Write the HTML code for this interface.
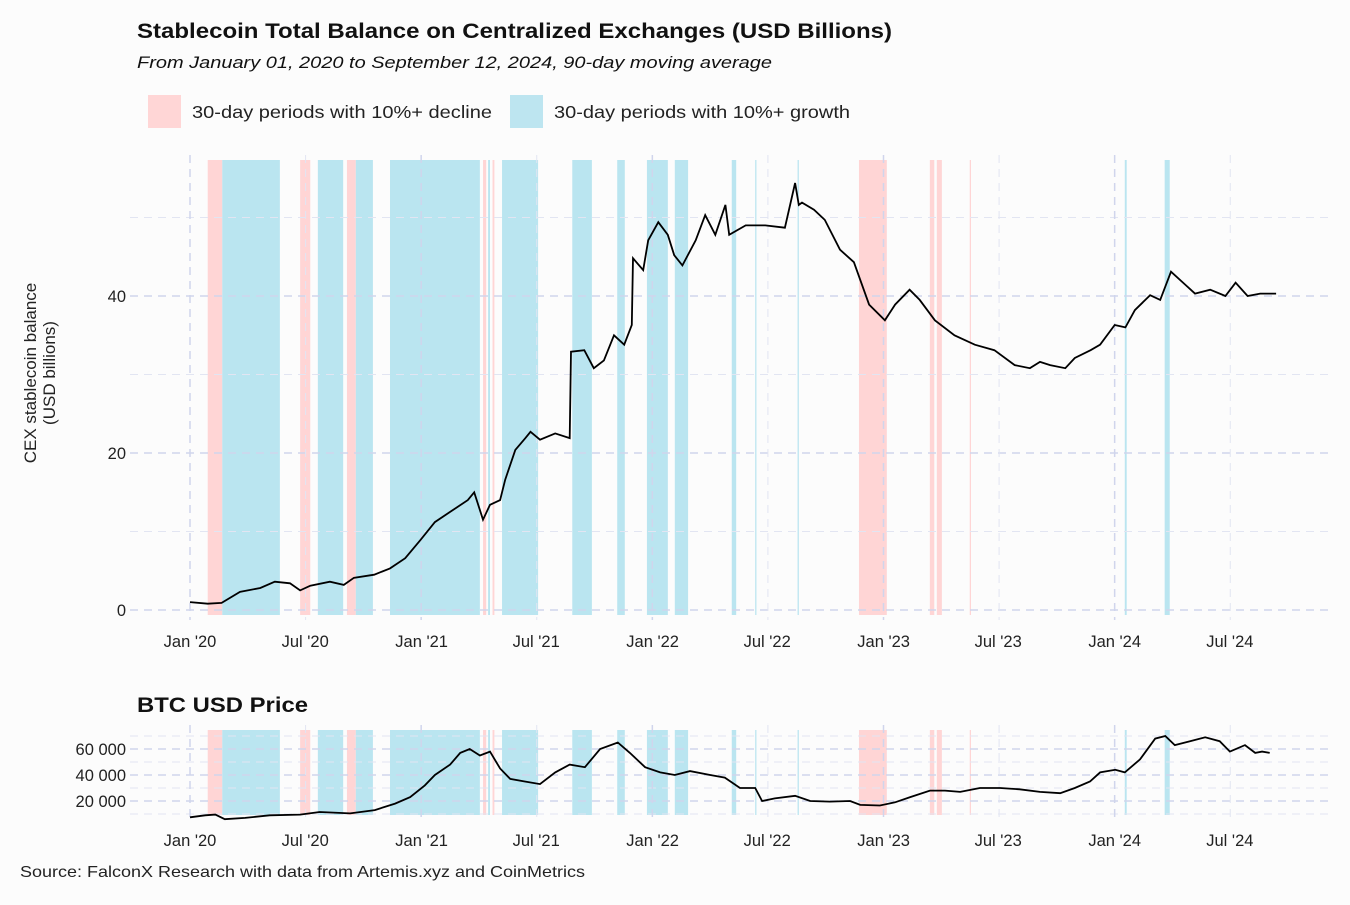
<!DOCTYPE html>
<html><head><meta charset="utf-8"><style>
body{margin:0;background:#fcfcfc;font-family:"Liberation Sans",Arial,sans-serif;}
svg text{font-family:"Liberation Sans",Arial,sans-serif;}
</style></head><body>
<svg id="c" width="1350" height="900" xmlns="http://www.w3.org/2000/svg">
<rect width="1350" height="900" fill="#fcfcfc"/>
<text x="137" y="38" font-size="21" font-weight="bold" fill="#111" textLength="755" lengthAdjust="spacingAndGlyphs">Stablecoin Total Balance on Centralized Exchanges (USD Billions)</text>
<text x="137" y="68" font-size="17" font-style="italic" fill="#111" textLength="635" lengthAdjust="spacingAndGlyphs">From January 01, 2020 to September 12, 2024, 90-day moving average</text>
<rect x="148" y="95" width="33" height="33" fill="#ffd6d6"/>
<text x="192" y="118" font-size="17.5" fill="#222" textLength="300" lengthAdjust="spacingAndGlyphs">30-day periods with 10%+ decline</text>
<rect x="510" y="95" width="33" height="33" fill="#bde5f0"/>
<text x="554" y="118" font-size="17.5" fill="#222" textLength="296" lengthAdjust="spacingAndGlyphs">30-day periods with 10%+ growth</text>
<g id="main"></g>
<g id="btc"></g>
<text x="137" y="712" font-size="21" font-weight="bold" fill="#111" textLength="171" lengthAdjust="spacingAndGlyphs">BTC USD Price</text>
<text transform="translate(36,373) rotate(-90)" text-anchor="middle" font-size="17" fill="#222"><tspan x="0" dy="0">CEX stablecoin balance</tspan><tspan x="0" dy="19">(USD billions)</tspan></text>
<text x="20" y="877" font-size="16" fill="#222" textLength="565" lengthAdjust="spacingAndGlyphs">Source: FalconX Research with data from Artemis.xyz and CoinMetrics</text>
</svg>
<script>
// days since 2020-01-01
const declineStart=[28,174,248,463,478,1057,1169,1180,1232];
const declineEnd=[51,190,262,468,481,1101,1176,1188,1234];
const growthStart=[51,202,262,316,471,493,604,675,722,766,856,893,960,1477,1540];
const growthEnd=[142,242,289,458,474,550,635,687,755,787,863,895,962,1480,1548];
const balDays=[0,28,50,79,111,134,158,174,190,221,243,259,291,316,340,364,387,411,439,449,463,474,490,498,514,530,538,553,577,600,602,623,638,654,670,686,698,700,716,724,740,755,765,778,799,814,830,846,852,878,909,940,956,962,967,986,1003,1027,1049,1073,1098,1114,1137,1153,1177,1208,1240,1271,1303,1327,1343,1359,1383,1398,1423,1438,1461,1478,1493,1517,1533,1550,1573,1588,1612,1636,1652,1671,1691,1707,1716];
const balance=[1.0,0.8,0.9,2.3,2.8,3.6,3.4,2.5,3.1,3.6,3.2,4.1,4.5,5.3,6.6,8.9,11.2,12.5,14.0,15.0,11.5,13.4,14.0,16.6,20.4,21.9,22.7,21.7,22.5,21.9,32.9,33.1,30.8,31.8,35.0,33.8,36.3,44.8,43.3,47.1,49.4,47.8,45.2,43.9,47.1,50.3,47.8,51.6,47.8,49.0,49.0,48.7,54.4,51.6,51.9,51.0,49.7,45.9,44.3,38.9,36.9,38.9,40.8,39.5,36.9,35.0,33.8,33.1,31.2,30.8,31.6,31.2,30.8,32.1,33.1,33.8,36.3,36.0,38.2,40.1,39.5,43.1,41.4,40.3,40.8,40.0,41.7,40.0,40.3,40.3,40.3];
const btcDays=[0,24,40,55,87,126,174,205,253,292,324,348,371,387,411,427,442,458,474,490,506,529,553,577,600,624,648,676,695,719,743,766,790,822,845,869,893,904,924,956,980,1011,1043,1059,1090,1114,1138,1169,1193,1217,1248,1280,1311,1343,1375,1398,1422,1438,1462,1477,1501,1525,1541,1556,1580,1604,1627,1643,1667,1683,1694,1706];
const btcPrice=[7.5,9,9.5,6,7,9,9.5,11.5,10.5,13,18,23,32,40,48,57,60,55,58,45,37,35,33,42,48,46,60,65,57,46,42,40,43,40,38,30,30,20,22,24,20,19.5,20,17,16.5,19,23,28,28,27,30,30,29,27,26,30,35,42,44,42,52,68,70,63,66,69,66,58,63,57,58,57];
const balTicks=[0,20,40];
const btcTicks=[20000,40000,60000];
const xLabels=["Jan '20","Jul '20","Jan '21","Jul '21","Jan '22","Jul '22","Jan '23","Jul '23","Jan '24","Jul '24"];
const xLabelDays=[0,182,366,547,731,912,1096,1277,1461,1643];

const NS="http://www.w3.org/2000/svg";
const X=d=>190+d*0.6329;
const Ym=v=>610-v*7.85;
const Yb=v=>827-v*1.3/1000;
function mk(p,t,a){const e=document.createElementNS(NS,t);for(const k in a)e.setAttribute(k,a[k]);p.appendChild(e);return e;}
function panel(g,top,bot,Y,ticks,minor,fmt,days,vals,scale,nm){
  for(let i=0;i<declineStart.length;i++){const r=mk(g,'rect',{x:X(declineStart[i]),y:top,width:Math.max(1,X(declineEnd[i])-X(declineStart[i])),height:bot-top,fill:'#ffd0d0',opacity:0.9});
    
    }
  for(let i=0;i<growthStart.length;i++){const r=mk(g,'rect',{x:X(growthStart[i]),y:top,width:Math.max(1,X(growthEnd[i])-X(growthStart[i])),height:bot-top,fill:'#b2e2ee',opacity:0.9});
    
    }
  minor.forEach(v=>{const l=mk(g,'line',{x1:130,x2:1330,y1:Y(v),y2:Y(v),stroke:'#e2e5f2','stroke-dasharray':'8 6'});
    
    });
  ticks.forEach(v=>{const l=mk(g,'line',{x1:130,x2:1330,y1:Y(v),y2:Y(v),stroke:'#d0d5ec','stroke-width':1.5,'stroke-dasharray':'8 6'});
    
    
    const t=mk(g,'text',{x:126,y:Y(v)+6,'text-anchor':'end','font-size':16.5,fill:'#222'});t.textContent=fmt(v);
    
    });
  for(let i=0;i<=9;i++){const d=i*365.25*0.5;const l=mk(g,'line',{x1:X(d),x2:X(d),y1:top-5,y2:bot+5,stroke:i%2?'#e2e5f2':'#d0d5ec','stroke-width':i%2?1:1.5,'stroke-dasharray':'8 6'});
    
    }
  let p='';days.forEach((d,i)=>{p+=(i?'L':'M')+X(d).toFixed(1)+','+Y(vals[i]*scale).toFixed(1);});
  const path=mk(g,'path',{d:p,fill:'none',stroke:'#000','stroke-width':1.8});
  
  
}
const gm=document.getElementById('main'),gb=document.getElementById('btc');
panel(gm,160,615,Ym,balTicks,[10,30,50],v=>String(v),balDays,balance,1,'balance-line');
panel(gb,730,815,Yb,btcTicks,[10000,30000,50000,70000],v=>(v/1000)+' 000',btcDays,btcPrice,1000,'btc-price-line');
[[gm,647],[gb,846]].forEach(([g,y])=>xLabels.forEach((s,i)=>{const t=mk(g,'text',{x:X(xLabelDays[i]),y:y,'text-anchor':'middle','font-size':16.5,fill:'#222'});t.textContent=s;
  
  }));
</script>
</body></html>
